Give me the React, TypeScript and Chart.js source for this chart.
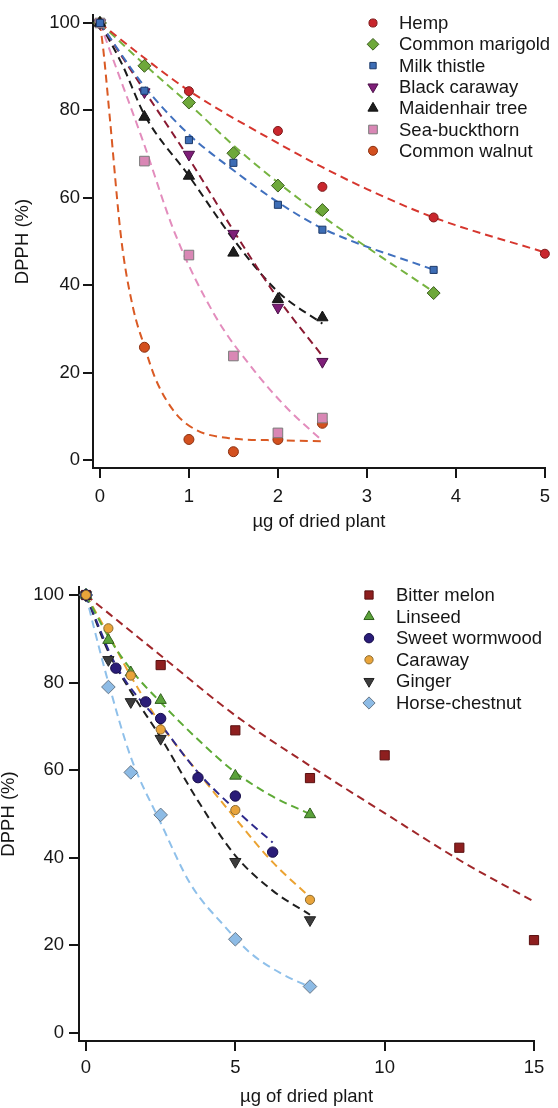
import React, { useEffect, useRef } from 'react';
import { Chart, registerables } from 'chart.js';
import { drawPoint } from 'chart.js/helpers';

Chart.register(...registerables);

// ---------- DATA ----------
const topXTicks = [0, 1, 2, 3, 4, 5];
const topYTicks = [0, 20, 40, 60, 80, 100];
const bottomXTicks = [0, 5, 10, 15];
const bottomYTicks = [0, 20, 40, 60, 80, 100];
const xTitle = 'µg of dried plant';
const yTitle = 'DPPH (%)';

// Top panel
const hempX = [0, 1, 2, 2.5, 3.75, 5];
const hempY = [100, 84.4, 75.3, 62.5, 55.5, 47.2];
const hempFitX = [0, 0.5, 1, 2, 2.5, 3, 3.75, 5];
const hempFitY = [100, 92, 84.5, 72.5, 67, 62, 55.5, 47.5];

const marigoldX = [0, 0.5, 1, 1.5, 2, 2.5, 3.75];
const marigoldY = [100, 90.2, 81.8, 70.2, 62.8, 57.2, 38.2];
const marigoldFitX = [0, 0.5, 1, 1.5, 2, 2.5, 3, 3.75];
const marigoldFitY = [100, 90.5, 81.5, 72, 63.5, 55.8, 48.7, 38.5];

const thistleX = [0, 0.5, 1, 1.5, 2, 2.5, 3.75];
const thistleY = [100, 84.5, 73.2, 68, 58.4, 52.7, 43.5];
const thistleFitX = [0, 0.5, 1, 1.5, 2, 2.5, 3.75];
const thistleFitY = [100, 85.5, 74.5, 66.3, 59, 53, 43.5];

const blackCarawayX = [0, 0.5, 1, 1.5, 2, 2.5];
const blackCarawayY = [100, 84.2, 69.9, 51.8, 34.9, 22.5];
const blackCarawayFitX = [0, 0.5, 1, 1.5, 2, 2.5];
const blackCarawayFitY = [100, 84.5, 69, 52.5, 37, 23.8];

const maidenhairX = [0, 0.5, 1, 1.5, 2, 2.5];
const maidenhairY = [100, 78.5, 65, 47.4, 36.8, 32.6];
const maidenhairFitX = [0, 0.25, 0.5, 1, 1.5, 2, 2.5];
const maidenhairFitY = [100, 90.5, 79, 65, 50.5, 38.5, 31.2];

const buckthornX = [0, 0.5, 1, 1.5, 2, 2.5];
const buckthornY = [100, 68.4, 46.9, 23.8, 6.2, 9.6];
const buckthornFitX = [0, 0.11, 0.48, 0.85, 1.3, 1.74, 2.12, 2.5];
const buckthornFitY = [100, 93.8, 73.2, 51.5, 32.8, 20.3, 11.5, 4.4];

const walnutX = [0, 0.5, 1, 1.5, 2, 2.5];
const walnutY = [100, 25.8, 4.7, 1.9, 4.7, 8.4];
const walnutFitX = [0, 0.04, 0.11, 0.24, 0.37, 0.5, 0.63, 0.85, 1.08, 1.45, 2, 2.5];
const walnutFitY = [100, 93.5, 78.5, 50.5, 35, 26, 18.3, 10.7, 6.9, 5.0, 4.5, 4.3];

// Bottom panel
const melonX = [0, 2.5, 5, 7.5, 10, 12.5, 15];
const melonY = [100, 84, 69.1, 58.2, 63.4, 42.3, 21.2];
const melonFitX = [0, 2.5, 5, 7.5, 10, 12.5, 15];
const melonFitY = [100, 86.2, 72.5, 61, 50.2, 39.5, 30];

const linseedX = [0, 0.75, 1.5, 2.5, 5, 7.5];
const linseedY = [100, 89.7, 82.3, 76, 58.7, 49.9];
const linseedFitX = [0, 0.75, 1.5, 2.5, 3.75, 5, 6.25, 7.5];
const linseedFitY = [100, 90.5, 83, 75.5, 67, 59.5, 54, 50];

const wormwoodX = [0, 1, 2, 2.5, 3.75, 5, 6.25];
const wormwoodY = [100, 83.3, 75.6, 71.8, 58.3, 54.1, 41.3];
const wormwoodFitX = [0, 1, 2.5, 3.75, 5, 6.25];
const wormwoodFitY = [100, 84, 70.5, 59.5, 51, 43.5];

const carawayX = [0, 0.75, 1.5, 2.5, 5, 7.5];
const carawayY = [100, 92.4, 81.6, 69.3, 50.9, 30.4];
const carawayFitX = [0, 0.75, 1.5, 2.5, 3.75, 5, 6.25, 7.5];
const carawayFitY = [100, 91, 81.5, 70.5, 59.5, 49, 39, 31];

const gingerX = [0, 0.75, 1.5, 2.5, 5, 7.5];
const gingerY = [100, 85.2, 75.6, 67.2, 39.1, 25.8];
const gingerFitX = [0, 0.75, 1.5, 2.5, 3.75, 5, 6.25, 7.5];
const gingerFitY = [100, 87, 78, 67.5, 53, 40.5, 32.5, 27];

const chestnutX = [0, 0.75, 1.5, 2.5, 5, 7.5];
const chestnutY = [100, 79, 59.5, 49.8, 21.4, 10.6];
const chestnutFitX = [0, 0.25, 0.75, 1.5, 2.5, 3.5, 4.65, 5.5, 6.5, 7.5];
const chestnutFitY = [100, 93, 80, 63, 48, 34, 24.3, 18.3, 13.7, 10.5];

// ---------- STYLE ----------
const FONT = '"Liberation Sans", Arial, Helvetica, sans-serif';
const FS = 18.5;
const INK = '#161616';

type Series = {
  label: string; x: number[]; y: number[]; fx: number[]; fy: number[];
  fill: string; stroke: string; line: string; style: string; r: number; rot?: number; order: number;
};

const topSeries: Series[] = [
  { label: 'Hemp', x: hempX, y: hempY, fx: hempFitX, fy: hempFitY, fill: '#C9262D', stroke: '#7d1a1a', line: '#D6362E', style: 'circle', r: 4.5, order: 7 },
  { label: 'Common marigold', x: marigoldX, y: marigoldY, fx: marigoldFitX, fy: marigoldFitY, fill: '#6EA83A', stroke: '#3d5e20', line: '#76B340', style: 'rectRot', r: 6.5, order: 6 },
  { label: 'Milk thistle', x: thistleX, y: thistleY, fx: thistleFitX, fy: thistleFitY, fill: '#3D6DB5', stroke: '#1d3a6a', line: '#4070BE', style: 'rect', r: 5, order: 1 },
  { label: 'Black caraway', x: blackCarawayX, y: blackCarawayY, fx: blackCarawayFitX, fy: blackCarawayFitY, fill: '#7E1E78', stroke: '#4b1048', line: '#8A1A32', style: 'triangle', r: 6.5, rot: 180, order: 4 },
  { label: 'Maidenhair tree', x: maidenhairX, y: maidenhairY, fx: maidenhairFitX, fy: maidenhairFitY, fill: '#1e1e1e', stroke: '#111111', line: '#1a1a1a', style: 'triangle', r: 6.5, order: 2 },
  { label: 'Sea-buckthorn', x: buckthornX, y: buckthornY, fx: buckthornFitX, fy: buckthornFitY, fill: '#D987B5', stroke: '#7a7a7a', line: '#E38DBD', style: 'rect', r: 6.8, order: 3 },
  { label: 'Common walnut', x: walnutX, y: walnutY, fx: walnutFitX, fy: walnutFitY, fill: '#D3501F', stroke: '#8a3010', line: '#DA5A24', style: 'circle', r: 5, order: 5 },
];

const bottomSeries: Series[] = [
  { label: 'Bitter melon', x: melonX, y: melonY, fx: melonFitX, fy: melonFitY, fill: '#8E1F1F', stroke: '#5a1010', line: '#A0272A', style: 'rect', r: 6.5, order: 6 },
  { label: 'Linseed', x: linseedX, y: linseedY, fx: linseedFitX, fy: linseedFitY, fill: '#5BA23A', stroke: '#2f5e1c', line: '#5EAA36', style: 'triangle', r: 6.5, order: 4 },
  { label: 'Sweet wormwood', x: wormwoodX, y: wormwoodY, fx: wormwoodFitX, fy: wormwoodFitY, fill: '#2A1C78', stroke: '#150c48', line: '#2E2A8C', style: 'circle', r: 5.2, order: 2 },
  { label: 'Caraway', x: carawayX, y: carawayY, fx: carawayFitX, fy: carawayFitY, fill: '#E9A43A', stroke: '#8a6a30', line: '#EBA332', style: 'circle', r: 4.6, order: 1 },
  { label: 'Ginger', x: gingerX, y: gingerY, fx: gingerFitX, fy: gingerFitY, fill: '#3C3C3C', stroke: '#222222', line: '#1f1f1f', style: 'triangle', r: 6.5, rot: 180, order: 3 },
  { label: 'Horse-chestnut', x: chestnutX, y: chestnutY, fx: chestnutFitX, fy: chestnutFitY, fill: '#8DBBE5', stroke: '#667788', line: '#8FC0EA', style: 'rectRot', r: 6.8, order: 5 },
];

function buildDatasets(series: Series[]) {
  const pts = series.map((s) => ({
    label: s.label,
    data: s.x.map((v, i) => ({ x: v, y: s.y[i] })),
    showLine: false,
    pointStyle: s.style,
    pointRadius: s.r,
    pointRotation: s.rot || 0,
    pointBackgroundColor: s.fill,
    pointBorderColor: s.stroke,
    pointBorderWidth: 1,
    order: s.order,
    clip: false,
  }));
  const fits = series.map((s) => ({
    label: s.label + ' fit',
    data: s.fx.map((v, i) => ({ x: v, y: s.fy[i] })),
    showLine: true,
    pointRadius: 0,
    borderColor: s.line,
    borderWidth: 2,
    borderDash: [8, 5],
    cubicInterpolationMode: 'monotone',
    fill: false,
    order: 100,
    clip: false,
  }));
  return [...pts, ...fits];
}

function legendPlugin(n: number, mx: number, tx: number, y0: number, dy: number) {
  return {
    id: 'customLegend',
    afterDraw(chart: any) {
      const ctx = chart.ctx;
      ctx.save();
      for (let i = 0; i < n; i++) {
        const ds = chart.data.datasets[i];
        const y = y0 + i * dy;
        ctx.fillStyle = ds.pointBackgroundColor;
        ctx.strokeStyle = ds.pointBorderColor;
        ctx.lineWidth = 1;
        ctx.setLineDash([]);
        drawPoint(ctx, { pointStyle: ds.pointStyle, radius: ds.pointRadius * 0.9, rotation: ds.pointRotation, borderWidth: 1 } as any, mx, y);
        ctx.fillStyle = INK;
        ctx.font = `${FS}px ${FONT}`;
        ctx.textAlign = 'left';
        ctx.textBaseline = 'middle';
        ctx.fillText(ds.label, tx, y + 1);
      }
      ctx.restore();
    },
  };
}

type PanelCfg = {
  series: Series[]; xTicks: number[]; yTicks: number[];
  xMin: number; xMax: number; yMin: number; yMax: number;
  padTop: number; padRight: number; yWidth: number; xHeight: number;
  yLabelPad: number; xLabelPad: number; xTitlePad: number; yTitlePad: number;
  legend: [number, number, number, number];
};

function makeConfig(p: PanelCfg): any {
  const tickFont = { family: FONT, size: FS };
  const grid = { drawOnChartArea: false, drawTicks: true, tickLength: 10, color: INK, lineWidth: 2 };
  const border = { display: true, color: INK, width: 2 };
  return {
    type: 'scatter',
    data: { datasets: buildDatasets(p.series) },
    options: {
      animation: false,
      responsive: false,
      devicePixelRatio: 1,
      events: [],
      layout: { padding: { top: p.padTop, right: p.padRight, left: 0, bottom: 0 } },
      plugins: { legend: { display: false }, tooltip: { enabled: false } },
      scales: {
        x: {
          type: 'linear', min: p.xMin, max: p.xMax,
          afterBuildTicks: (s: any) => { s.ticks = p.xTicks.map((v) => ({ value: v })); },
          afterFit: (s: any) => { s.height = p.xHeight; },
          grid, border,
          ticks: { color: INK, font: tickFont, padding: p.xLabelPad, maxRotation: 0, autoSkip: false },
          title: { display: true, text: xTitle, color: INK, font: { family: FONT, size: FS, lineHeight: 1 }, padding: { top: 0, bottom: p.xTitlePad } },
        },
        y: {
          type: 'linear', min: p.yMin, max: p.yMax,
          afterBuildTicks: (s: any) => { s.ticks = p.yTicks.map((v) => ({ value: v })); },
          afterFit: (s: any) => { s.width = p.yWidth; },
          grid, border,
          ticks: { color: INK, font: tickFont, padding: p.yLabelPad, autoSkip: false },
          title: { display: true, text: yTitle, color: INK, font: { family: FONT, size: FS, lineHeight: 1 }, padding: { top: p.yTitlePad, bottom: 0 } },
        },
      },
    },
    plugins: [legendPlugin(p.series.length, ...p.legend)],
  };
}

function Panel({ cfg, top, height }: { cfg: PanelCfg; top: number; height: number }) {
  const ref = useRef<HTMLCanvasElement>(null);
  useEffect(() => {
    const chart = new Chart(ref.current as HTMLCanvasElement, makeConfig(cfg));
    return () => chart.destroy();
  }, []);
  return (
    <div style={{ position: 'absolute', left: 0, top, width: 558, height }}>
      <canvas ref={ref} width={558} height={height} style={{ display: 'block', width: 558, height }} />
    </div>
  );
}

const topCfg: PanelCfg = {
  series: topSeries, xTicks: topXTicks, yTicks: topYTicks,
  xMin: -0.078, xMax: 5, yMin: -1.83, yMax: 101.83,
  padTop: 15, padRight: 9, yWidth: 93, xHeight: 72,
  yLabelPad: 3, xLabelPad: 8, xTitlePad: 8.75, yTitlePad: 13.5,
  legend: [373, 399, 23, 21.3],
};

const bottomCfg: PanelCfg = {
  series: bottomSeries, xTicks: bottomXTicks, yTicks: bottomYTicks,
  xMin: -0.234, xMax: 15, yMin: -1.83, yMax: 101.83,
  padTop: 47, padRight: 24, yWidth: 79, xHeight: 67,
  yLabelPad: 5, xLabelPad: 6, xTitlePad: 1.75, yTitlePad: 0,
  legend: [369, 396, 55, 21.6],
};

export default function App() {
  return (
    <div style={{ position: 'absolute', left: 0, top: 0, width: 558, height: 1108, background: '#fff' }}>
      <Panel cfg={topCfg} top={0} height={540} />
      <Panel cfg={bottomCfg} top={540} height={568} />
    </div>
  );
}
